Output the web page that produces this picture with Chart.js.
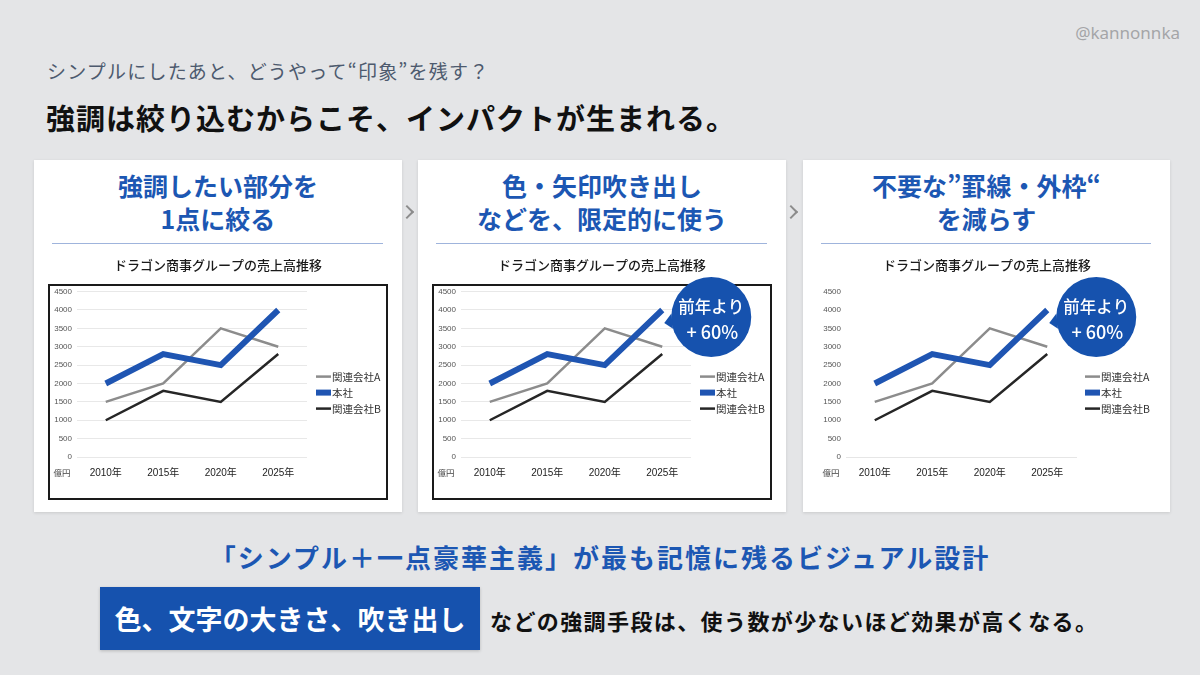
<!DOCTYPE html>
<html lang="ja">
<head>
<meta charset="UTF-8">
<title>強調は絞り込むからこそ</title>
<script src="https://cdn.jsdelivr.net/npm/chart.js"></script>
<style>
    body {
        margin: 0;
        width: 1200px;
        height: 675px;
        background: #e4e5e7;
        font-family: "Noto Sans CJK JP", "Noto Sans", sans-serif;
        position: relative;
        overflow: hidden;
    }
    .handle {
        position: absolute;
        right: 20px;
        top: 21px;
        font-family: "Noto Sans", sans-serif;
        font-size: 17px;
        color: #a4a5a8;
    }
    .sub {
        position: absolute;
        left: 47px;
        top: 59px;
        font-size: 19px;
        line-height: 24px;
        letter-spacing: 1.2px;
        color: #4d5a6e;
    }
    .title {
        position: absolute;
        left: 46px;
        top: 99px;
        font-size: 29px;
        line-height: 36px;
        letter-spacing: 1px;
        font-weight: 700;
        color: #111;
    }
    .panel {
        position: absolute;
        top: 160px;
        width: 368px;
        height: 352px;
        background: #fff;
        box-shadow: 0 1px 3px rgba(0, 0, 0, 0.12);
    }
    .panel h2 {
        position: absolute;
        left: 0;
        right: 0;
        top: 9px;
        margin: 0;
        text-align: center;
        font-size: 25px;
        line-height: 33px;
        font-weight: 700;
        color: #1c57b3;
    }
    .panel .rule {
        position: absolute;
        left: 18px;
        right: 19px;
        top: 83px;
        height: 1px;
        background: #9fb4dc;
    }
    .panel .frame {
        position: absolute;
        left: 14px;
        top: 124px;
        width: 340px;
        height: 216px;
        border: 2px solid #1a1a1a;
        box-sizing: border-box;
    }
    .panel .chart-wrap {
        position: absolute;
        left: 14px;
        top: 92px;
        width: 340px;
        height: 248px;
        z-index: 2;
    }
    .chevron {
        position: absolute;
        top: 207px;
        width: 8px;
        height: 8px;
        border-top: 2px solid #8c8c8c;
        border-right: 2px solid #8c8c8c;
        transform: rotate(45deg);
    }
    .key {
        position: absolute;
        left: 0;
        right: 0;
        top: 540px;
        text-align: center;
        font-size: 26px;
        line-height: 34px;
        letter-spacing: 2px;
        font-weight: 700;
        color: #1c57b3;
    }
    .badge {
        position: absolute;
        left: 100px;
        top: 587px;
        width: 380px;
        height: 63px;
        background: #1652ae;
        color: #fff;
        font-size: 27px;
        font-weight: 700;
        line-height: 63px;
        text-align: center;
        box-shadow: 0 1px 3px rgba(0, 0, 0, 0.2);
    }
    .rest {
        position: absolute;
        left: 490px;
        top: 605px;
        font-size: 22px;
        line-height: 30px;
        letter-spacing: 1.4px;
        font-weight: 700;
        color: #111;
    }
</style>
</head>
<body>
<div class="handle">@kannonnka</div>
<div class="sub">シンプルにしたあと、どうやって“印象”を残す？</div>
<div class="title">強調は絞り込むからこそ、インパクトが生まれる。</div>

<div class="panel" style="left:34px">
    <h2>強調したい部分を<br>1点に絞る</h2>
    <div class="rule"></div>
    <div class="frame"></div>
    <div class="chart-wrap"><canvas id="chart1"></canvas></div>
</div>
<div class="chevron" style="left:402px"></div>
<div class="panel" style="left:418px">
    <h2>色・矢印吹き出し<br>などを、限定的に使う</h2>
    <div class="rule"></div>
    <div class="frame"></div>
    <div class="chart-wrap"><canvas id="chart2"></canvas></div>
</div>
<div class="chevron" style="left:786px"></div>
<div class="panel" style="left:803px; width:367px">
    <h2>不要な”罫線・外枠“<br>を減らす</h2>
    <div class="rule"></div>
    <div class="chart-wrap"><canvas id="chart3"></canvas></div>
</div>

<div class="key">「シンプル＋一点豪華主義」が最も記憶に残るビジュアル設計</div>
<div class="badge">色、文字の大きさ、吹き出し</div>
<div class="rest">などの強調手段は、使う数が少ないほど効果が高くなる。</div>

<script>
// data
const chartTitle = 'ドラゴン商事グループの売上高推移';
const years = ['2010年', '2015年', '2020年', '2025年'];
const seriesNames = ['関連会社A', '本社', '関連会社B'];
const affiliateA = [1500, 2000, 3500, 3000];
const headOffice = [2000, 2800, 2500, 4000];
const affiliateB = [1000, 1800, 1500, 2800];
const yMin = 0;
const yMax = 4500;
const yStep = 500;
const unitLabel = '億円';
const calloutLines = ['前年より', '+60%'];

const seriesColors = ['#8c8c8c', '#1f55b2', '#262626'];
const seriesWidths = [2.5, 6, 2.5];

// legend drawn to the right of the plot
const sideLegend = {
    id: 'sideLegend',
    afterDraw(chart) {
        const { ctx, chartArea } = chart;
        const x = chartArea.right + 9;
        ctx.save();
        ctx.font = '10.5px "Noto Sans CJK JP"';
        ctx.textBaseline = 'middle';
        chart.data.datasets.forEach((ds, i) => {
            const y = chartArea.top + 85 + i * 16;
            ctx.strokeStyle = ds.borderColor;
            ctx.lineWidth = ds.borderWidth;
            ctx.beginPath();
            ctx.moveTo(x, y);
            ctx.lineTo(x + 15, y);
            ctx.stroke();
            ctx.fillStyle = '#333';
            ctx.fillText(ds.label, x + 16, y + 0.5);
        });
        ctx.restore();
    }
};

// unit under the y axis
const unitText = {
    id: 'unitText',
    afterDraw(chart) {
        const { ctx, chartArea } = chart;
        ctx.save();
        ctx.font = '8.5px "Noto Sans CJK JP"';
        ctx.fillStyle = '#444';
        ctx.textAlign = 'center';
        ctx.textBaseline = 'middle';
        ctx.fillText(unitLabel, chartArea.left - 15, chartArea.bottom + 16);
        ctx.restore();
    }
};

// speech bubble next to the last head office point
const callout = {
    id: 'callout',
    afterDraw(chart, args, opts) {
        if (!opts.show) return;
        const pt = chart.getDatasetMeta(1).data[years.length - 1];
        const cx = pt.x + 49;
        const cy = pt.y + 7;
        const r = 40;
        const { ctx } = chart;
        const rad = Math.PI / 180;
        ctx.save();
        ctx.fillStyle = '#1652ae';
        ctx.beginPath();
        ctx.arc(cx, cy, r, 0, Math.PI * 2);
        ctx.fill();
        ctx.beginPath();
        ctx.moveTo(cx + r * Math.cos(163 * rad), cy + r * Math.sin(163 * rad));
        ctx.lineTo(cx - 47, cy + 6);
        ctx.lineTo(cx + r * Math.cos(185 * rad), cy + r * Math.sin(185 * rad));
        ctx.closePath();
        ctx.fill();
        ctx.fillStyle = '#fff';
        ctx.font = '500 16.5px "Noto Sans CJK JP"';
        ctx.textAlign = 'center';
        ctx.textBaseline = 'middle';
        ctx.fillText(calloutLines[0], cx, cy - 10);
        ctx.font = '500 18px "Noto Sans CJK JP"';
        ctx.fillText(calloutLines[1].replace('+', '+ '), cx + 1, cy + 15);
        ctx.restore();
    }
};

function makeChart(id, showGrid, showCallout) {
    const ctx = document.getElementById(id).getContext('2d');
    const values = [affiliateA, headOffice, affiliateB];
    return new Chart(ctx, {
        type: 'line',
        data: {
            labels: years,
            datasets: seriesNames.map((name, i) => ({
                label: name,
                data: values[i],
                borderColor: seriesColors[i],
                borderWidth: seriesWidths[i],
                pointRadius: 0,
                tension: 0,
                order: i === 1 ? 1 : i + 2
            }))
        },
        options: {
            responsive: true,
            maintainAspectRatio: false,
            animation: false,
            layout: { padding: { left: 0, right: 0, top: 0, bottom: 10 } },
            plugins: {
                legend: { display: false },
                tooltip: { enabled: false },
                title: {
                    display: true,
                    text: chartTitle,
                    color: '#1a1a1a',
                    font: { family: '"Noto Sans CJK JP"', size: 13, weight: 500 },
                    padding: { top: 5, bottom: 19 }
                },
                callout: { show: showCallout }
            },
            scales: {
                x: {
                    offset: true,
                    grid: { display: false, drawTicks: false },
                    border: { display: !showGrid, color: '#e6e6e6' },
                    ticks: {
                        padding: 10,
                        color: '#222',
                        font: { family: '"Liberation Sans", "Noto Sans CJK JP"', size: 10 }
                    },
                    afterFit(s) { s.height = 33; }
                },
                y: {
                    min: yMin,
                    max: yMax,
                    grid: { display: showGrid, color: '#e8e8e8', drawTicks: false },
                    border: { display: false },
                    ticks: {
                        stepSize: yStep,
                        padding: 5,
                        color: '#555',
                        font: { family: '"Liberation Sans"', size: 8 },
                        callback: (v) => String(v)
                    },
                    afterFit(s) { s.width = 29; }
                },
                // empty axis keeps room for the legend on the right
                side: {
                    position: 'right',
                    grid: { display: false },
                    border: { display: false },
                    ticks: { display: false },
                    afterFit(s) { s.width = 81; }
                }
            }
        },
        plugins: [sideLegend, unitText, callout]
    });
}

document.addEventListener('DOMContentLoaded', () => {
    makeChart('chart1', true, false);
    makeChart('chart2', true, true);
    makeChart('chart3', false, true);
});
</script>
</body>
</html>
